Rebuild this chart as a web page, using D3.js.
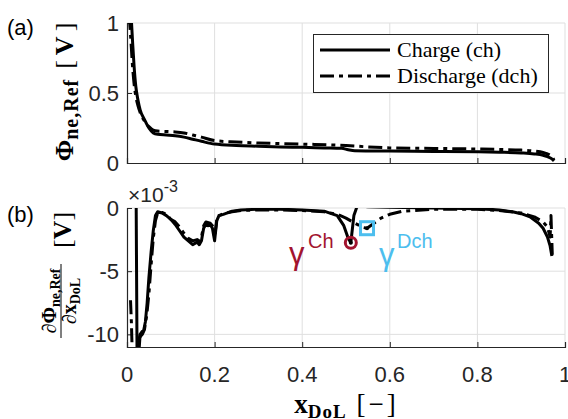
<!DOCTYPE html>
<html>
<head>
<meta charset="utf-8">
<script src="https://cdn.jsdelivr.net/npm/d3@7"></script>
<style>
  body { margin: 0; background: #fff; }
  .tick-label { font-family: "Liberation Sans", Arial, sans-serif; font-size: 22px; fill: #262626; }
  .serif { font-family: "Liberation Serif", "Times New Roman", serif; }
</style>
</head>
<body>
<div id="chart"></div>
<script>
// ---- data ----
const xTicks = [0, 0.2, 0.4, 0.6, 0.8, 1];
const xTickLabels = ['0', '0.2', '0.4', '0.6', '0.8', '1'];
const topYTicks = [0, 0.5, 1];
const topYTickLabels = ['0', '0.5', '1'];
const botYTicks = [-10, -5, 0];
const botYTickLabels = ['-10', '-5', '0'];
const legendLabels = ['Charge (ch)', 'Discharge (dch)'];

// (a) reference potential [V]
const chargeX = [0.010, 0.013, 0.016, 0.020, 0.025, 0.030, 0.040, 0.050, 0.060, 0.070, 0.090, 0.110, 0.130, 0.150, 0.170, 0.200, 0.250, 0.300, 0.350, 0.400, 0.450, 0.490, 0.505, 0.520, 0.600, 0.700, 0.800, 0.850, 0.900, 0.930, 0.950, 0.960, 0.970, 0.975];
const chargePhi = [1.02, 0.85, 0.70, 0.55, 0.45, 0.38, 0.31, 0.25, 0.215, 0.205, 0.200, 0.195, 0.185, 0.170, 0.155, 0.135, 0.125, 0.120, 0.115, 0.112, 0.108, 0.105, 0.095, 0.088, 0.085, 0.083, 0.080, 0.077, 0.072, 0.065, 0.055, 0.045, 0.030, 0.015];
const dischargeX = [0.005, 0.008, 0.012, 0.016, 0.020, 0.025, 0.030, 0.040, 0.050, 0.060, 0.070, 0.090, 0.110, 0.130, 0.150, 0.170, 0.200, 0.250, 0.300, 0.400, 0.500, 0.550, 0.600, 0.700, 0.800, 0.850, 0.900, 0.930, 0.950, 0.960, 0.970, 0.975];
const dischargePhi = [1.05, 0.92, 0.72, 0.57, 0.48, 0.41, 0.36, 0.30, 0.26, 0.235, 0.228, 0.225, 0.222, 0.215, 0.200, 0.185, 0.160, 0.150, 0.143, 0.135, 0.125, 0.115, 0.108, 0.104, 0.100, 0.097, 0.092, 0.085, 0.075, 0.065, 0.045, 0.020];

// (b) derivative [x1e-3 V]
const chargeDX = [0.021, 0.023, 0.026, 0.030, 0.034, 0.038, 0.042, 0.046, 0.050, 0.055, 0.060, 0.065, 0.070, 0.080, 0.090, 0.100, 0.110, 0.120, 0.130, 0.140, 0.150, 0.160, 0.165, 0.170, 0.175, 0.180, 0.185, 0.190, 0.195, 0.200, 0.205, 0.210, 0.220, 0.240, 0.260, 0.300, 0.350, 0.400, 0.450, 0.480, 0.495, 0.505, 0.511, 0.518, 0.525, 0.535, 0.550, 0.600, 0.700, 0.800, 0.850, 0.880, 0.900, 0.920, 0.940, 0.950, 0.960, 0.966, 0.970];
const chargeDeriv = [0.0, -12, -12, -10.0, -9.8, -9.7, -9.0, -7.5, -5.5, -3.5, -1.8, -0.6, -0.3, -0.4, -0.6, -0.9, -1.3, -1.8, -2.3, -2.6, -2.9, -2.7, -2.9, -2.6, -1.6, -1.3, -1.4, -1.3, -1.6, -2.6, -1.0, -0.6, -0.5, -0.25, -0.15, -0.1, -0.1, -0.15, -0.25, -0.6, -1.4, -2.4, -2.75, -0.6, 0.1, 0.15, 0.1, 0.05, 0.0, -0.05, -0.15, -0.3, -0.45, -0.7, -1.2, -1.6, -2.3, -3.0, -3.8];
const dischargeDX = [0.008, 0.010, 0.012, 0.015, 0.020, 0.025, 0.030, 0.035, 0.040, 0.045, 0.050, 0.055, 0.060, 0.065, 0.070, 0.080, 0.090, 0.100, 0.110, 0.120, 0.130, 0.140, 0.150, 0.160, 0.165, 0.170, 0.175, 0.180, 0.190, 0.195, 0.200, 0.205, 0.210, 0.220, 0.240, 0.260, 0.300, 0.350, 0.400, 0.450, 0.480, 0.500, 0.520, 0.540, 0.548, 0.560, 0.580, 0.600, 0.630, 0.700, 0.800, 0.850, 0.900, 0.930, 0.950, 0.960, 0.966, 0.968, 0.971];
const dischargeDeriv = [-7.3, -9, -11.5, -12, -12, -11, -10.2, -10.0, -9.6, -8.5, -6.8, -4.5, -2.4, -1.0, -0.4, -0.35, -0.5, -0.9, -1.1, -1.5, -2.0, -2.4, -2.6, -2.5, -2.6, -2.3, -1.4, -1.1, -1.2, -1.4, -2.3, -0.9, -0.6, -0.45, -0.3, -0.2, -0.15, -0.15, -0.2, -0.3, -0.5, -0.8, -1.2, -1.55, -1.6, -1.3, -0.8, -0.5, -0.25, -0.1, -0.1, -0.2, -0.4, -0.7, -1.1, -1.5, -2.3, -0.6, -3.7];

// marked points
const gammaCh = { x: 0.511, y: -2.75 };
const gammaDch = { x: 0.548, y: -1.6 };

// ---- layout ----
const W = 568, H = 419;
const axisColor = '#262626', gridColor = '#dfdfdf';
const red = '#A2142F', blue = '#4DBEEE';
const dashDot = '14,5,4,5';

const svg = d3.select('#chart').append('svg')
  .attr('width', W).attr('height', H)
  .style('font-family', '"Liberation Sans", Arial, sans-serif');

const x = d3.scaleLinear().domain([0, 1]).range([127, 565]);
const yTop = d3.scaleLinear().domain([0, 1]).range([163, 23]);
const yBot = d3.scaleLinear().domain([-11, 0]).range([347, 208]);

const defs = svg.append('defs');
function clip(id, yScale) {
  defs.append('clipPath').attr('id', id).append('rect')
    .attr('x', x(0)).attr('y', yScale.range()[1])
    .attr('width', x(1) - x(0)).attr('height', yScale.range()[0] - yScale.range()[1]);
}
clip('clip-top', yTop);
clip('clip-bot', yBot);

function drawPanel(yScale, yTicks, yLabels, showXLabels) {
  const g = svg.append('g');
  // grid
  g.selectAll('.vgrid').data(xTicks.slice(1)).join('line')
    .attr('x1', d => x(d)).attr('x2', d => x(d))
    .attr('y1', yScale.range()[0]).attr('y2', yScale.range()[1])
    .attr('stroke', gridColor).attr('stroke-width', 1);
  g.selectAll('.hgrid').data(yTicks.filter(d => d !== yScale.domain()[0])).join('line')
    .attr('x1', x(0)).attr('x2', x(1))
    .attr('y1', d => yScale(d)).attr('y2', d => yScale(d))
    .attr('stroke', gridColor).attr('stroke-width', 1);

  // axes with inward ticks
  const xAxis = d3.axisTop(x).tickValues(xTicks).tickSize(5).tickFormat('');
  const yAxis = d3.axisRight(yScale).tickValues(yTicks).tickSize(5).tickFormat('');
  const ax = g.append('g').attr('transform', `translate(0,${yScale.range()[0]})`).call(xAxis);
  const ay = g.append('g').attr('transform', `translate(${x(0)},0)`).call(yAxis);
  [ax, ay].forEach(a => {
    a.select('.domain').attr('stroke', axisColor).attr('stroke-width', 1.2);
    a.selectAll('.tick line').attr('stroke', axisColor);
  });

  g.selectAll('.ylab').data(yTicks).join('text')
    .attr('class', 'tick-label')
    .attr('x', x(0) - 8).attr('y', d => yScale(d) + 8)
    .attr('text-anchor', 'end')
    .text((d, i) => yLabels[i]);

  if (showXLabels) {
    g.selectAll('.xlab').data(xTicks).join('text')
      .attr('class', 'tick-label')
      .attr('x', d => x(d)).attr('y', yScale.range()[0] + 35)
      .attr('text-anchor', 'middle')
      .text((d, i) => xTickLabels[i]);
  }
  return g;
}

drawPanel(yTop, topYTicks, topYTickLabels, false);
drawPanel(yBot, botYTicks, botYTickLabels, true);

// ---- curves ----
function drawCurve(xs, ys, yScale, clipId, dashed, curve) {
  const line = d3.line().x(d => x(d[0])).y(d => yScale(d[1])).curve(curve);
  svg.append('path')
    .datum(d3.zip(xs, ys))
    .attr('clip-path', `url(#${clipId})`)
    .attr('d', line)
    .attr('fill', 'none')
    .attr('stroke', '#000')
    .attr('stroke-width', 3)
    .attr('stroke-linejoin', 'round')
    .attr('stroke-dasharray', dashed ? dashDot : null);
}
drawCurve(chargeX, chargePhi, yTop, 'clip-top', false, d3.curveMonotoneX);
drawCurve(dischargeX, dischargePhi, yTop, 'clip-top', true, d3.curveMonotoneX);
drawCurve(chargeDX, chargeDeriv, yBot, 'clip-bot', false, d3.curveLinear);
drawCurve(dischargeDX, dischargeDeriv, yBot, 'clip-bot', true, d3.curveLinear);

// markers
svg.append('circle')
  .attr('cx', x(gammaCh.x)).attr('cy', yBot(gammaCh.y)).attr('r', 5.5)
  .attr('fill', 'none').attr('stroke', red).attr('stroke-width', 3);
svg.append('rect')
  .attr('x', x(gammaDch.x) - 6.5).attr('y', yBot(gammaDch.y) - 6.5)
  .attr('width', 13).attr('height', 13)
  .attr('fill', 'none').attr('stroke', blue).attr('stroke-width', 3);
[gammaCh, gammaDch].forEach(p => {
  svg.append('circle').attr('cx', x(p.x)).attr('cy', yBot(p.y)).attr('r', 2).attr('fill', '#000');
});

// gamma annotations
svg.append('text').attr('x', 289).attr('y', 264).attr('font-size', 31).attr('fill', red).text('γ');
svg.append('text').attr('x', 308).attr('y', 248).attr('font-size', 20).attr('fill', red).text('Ch');
svg.append('text').attr('x', 379).attr('y', 265).attr('font-size', 31).attr('fill', blue).text('γ');
svg.append('text').attr('x', 397).attr('y', 248).attr('font-size', 20).attr('fill', blue).text('Dch');

// ---- legend ----
const legend = svg.append('g').attr('class', 'legend');
legend.append('rect')
  .attr('x', 313.5).attr('y', 34.5).attr('width', 235).attr('height', 58)
  .attr('fill', '#fff').attr('stroke', axisColor).attr('stroke-width', 1);
legend.selectAll('.lline').data(legendLabels).join('line')
  .attr('x1', 320).attr('x2', 390)
  .attr('y1', (d, i) => 50 + i * 26).attr('y2', (d, i) => 50 + i * 26)
  .attr('stroke', '#000').attr('stroke-width', 3)
  .attr('stroke-dasharray', (d, i) => i === 1 ? dashDot : null);
legend.selectAll('.ltext').data(legendLabels).join('text')
  .attr('class', 'serif')
  .attr('x', 397).attr('y', (d, i) => 57 + i * 26)
  .attr('font-size', 22).attr('fill', '#000')
  .text(d => d);

// ---- panel letters and exponent ----
svg.append('text').attr('x', 7).attr('y', 35).attr('font-size', 22).text('(a)');
svg.append('text').attr('x', 7).attr('y', 222).attr('font-size', 22).text('(b)');
const expo = svg.append('text').attr('x', 128).attr('y', 202).attr('font-size', 21).attr('fill', axisColor);
expo.append('tspan').text('×10');
expo.append('tspan').attr('dy', -10).attr('font-size', 16).text('-3');

// ---- axis titles ----
const xl = svg.append('text').attr('class', 'serif')
  .attr('x', 345).attr('y', 413).attr('text-anchor', 'middle').attr('font-size', 27);
xl.append('tspan').attr('font-weight', 'bold').text('x');
xl.append('tspan').attr('font-weight', 'bold').attr('font-size', 19).attr('dy', 5)
  .attr('letter-spacing', 1).text('DoL');
xl.append('tspan').attr('dy', -5).attr('dx', 10).text('[');
xl.append('tspan').attr('dx', 3).text('−');
xl.append('tspan').attr('dx', 3).text(']');

const yl = svg.append('text').attr('class', 'serif')
  .attr('transform', 'translate(73,92) rotate(-90)')
  .attr('text-anchor', 'middle').attr('font-size', 26);
yl.append('tspan').attr('font-weight', 'bold').text('Φ');
yl.append('tspan').attr('font-weight', 'bold').attr('font-size', 20).attr('dy', 5)
  .attr('letter-spacing', 1).text('ne,Ref');
yl.append('tspan').attr('dy', -5).attr('dx', 10).text('[');
yl.append('tspan').attr('font-weight', 'bold').attr('dx', 5).text('V');
yl.append('tspan').attr('dx', 5).text(']');

const yv = svg.append('text').attr('class', 'serif')
  .attr('transform', 'translate(71,230) rotate(-90)')
  .attr('text-anchor', 'middle').attr('font-size', 26);
yv.append('tspan').text('[');
yv.append('tspan').attr('font-weight', 'bold').text('V');
yv.append('tspan').text(']');

const frac = svg.append('g').attr('class', 'serif').attr('transform', 'translate(61,301) rotate(-90)');
frac.append('line').attr('x1', -37).attr('x2', 37).attr('y1', 0).attr('y2', 0)
  .attr('stroke', '#000').attr('stroke-width', 1);
const num = frac.append('text').attr('x', 0).attr('y', -5).attr('text-anchor', 'middle').attr('font-size', 20);
num.append('tspan').text('∂');
num.append('tspan').attr('font-weight', 'bold').text('Φ');
num.append('tspan').attr('font-weight', 'bold').attr('font-size', 14).attr('dy', 4).text('ne,Ref');
const den = frac.append('text').attr('x', 0).attr('y', 15).attr('text-anchor', 'middle').attr('font-size', 20);
den.append('tspan').text('∂');
den.append('tspan').attr('font-weight', 'bold').text('x');
den.append('tspan').attr('font-weight', 'bold').attr('font-size', 14).attr('dy', 4).text('DoL');
</script>
</body>
</html>
